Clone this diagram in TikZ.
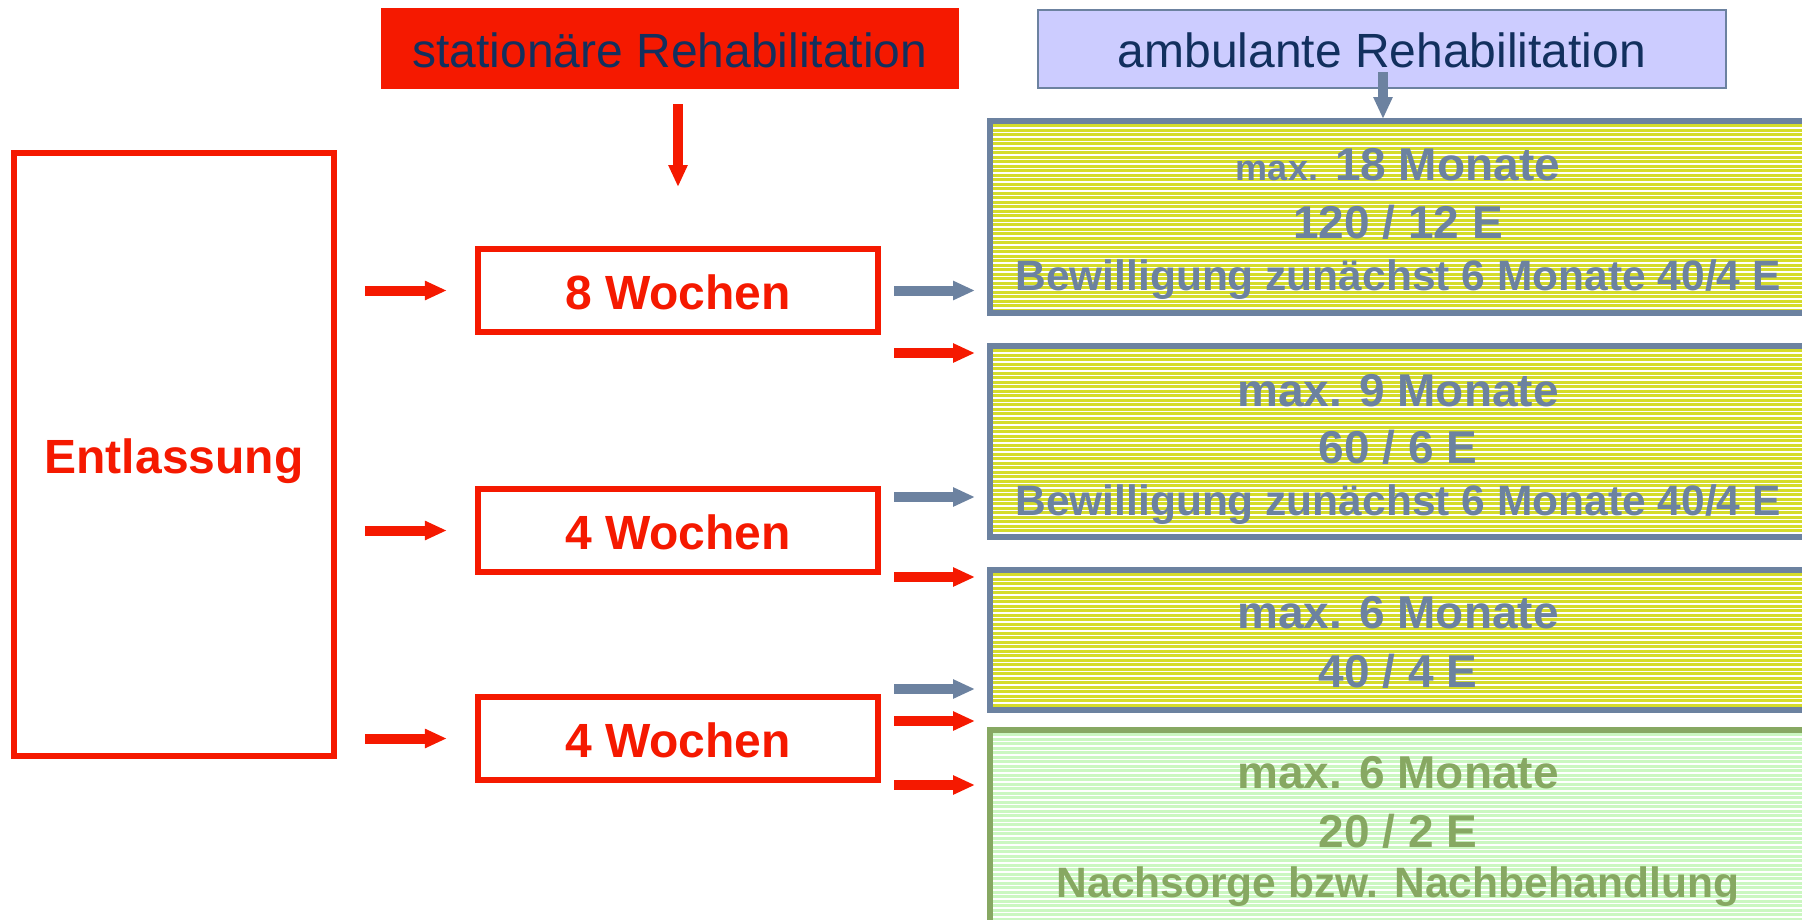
\documentclass[tikz,border=0pt]{standalone}
\usepackage{fontspec}
\setmainfont{Liberation Sans}
\usetikzlibrary{arrows.meta,calc}
\definecolor{rred}{RGB}{245,25,0}
\definecolor{slate}{RGB}{108,130,160}
\definecolor{navy}{RGB}{18,48,94}
\definecolor{lav}{RGB}{204,204,255}
\definecolor{yel}{RGB}{213,220,43}
\definecolor{pgreen}{RGB}{203,247,193}
\definecolor{dgreen}{RGB}{135,168,98}
\begin{document}
\begin{tikzpicture}[x=1pt,y=-1pt,
  stripes/.style={path picture={\foreach \k in {0,...,46}{\draw[white,line width=1.2pt] ([yshift={-2.5pt-\k*4.5pt}]path picture bounding box.north west) -- ([yshift={-2.5pt-\k*4.5pt}]path picture bounding box.north east);}}},
  redbox/.style={draw=rred, line width=5.7pt, fill=white, inner sep=0pt, outer sep=0pt, text=rred, font=\fontsize{48}{56}\selectfont\bfseries, text height=37pt, text depth=0pt},
  headbox/.style={inner sep=0pt, outer sep=0pt, text=navy, font=\fontsize{48}{56}\selectfont, text height=37pt, text depth=0pt},
  ybox/.style={draw=slate, line width=6pt, fill=yel, stripes, inner sep=0pt, outer sep=0pt},
  gbox/.style={draw=dgreen, line width=5.5pt, fill=pgreen, stripes, inner sep=0pt, outer sep=0pt},
  ytxt/.style={anchor=base, text=slate, font=\fontsize{46}{50}\selectfont\bfseries, inner sep=0pt},
  ytxts/.style={anchor=base, text=slate, font=\fontsize{42.5}{46}\selectfont\bfseries, inner sep=0pt},
  gtxt/.style={ytxt, text=dgreen},
  gtxts/.style={ytxts, text=dgreen},
  rarr/.style={draw=rred, line width=10pt, -{Triangle[width=18pt,length=22pt]}},
  sarr/.style={draw=slate, line width=10pt, -{Triangle[width=18pt,length=22pt]}},
]
\useasboundingbox (0,0) rectangle (1802,919);
\clip (0,0) rectangle (1802,919);

% headers
\node[headbox, fill=rred, minimum width=578pt, minimum height=81pt] (stat) at (670,48.5) {stationäre Rehabilitation};
\node[headbox, fill=lav, draw=slate, line width=2pt, minimum width=688pt, minimum height=78pt] (amb) at (1382,49) {ambulante Rehabilitation};

% left column
\node[redbox, minimum width=320.3pt, minimum height=603.3pt] (ent) at (174,454.5) {Entlassung};
\node[redbox, minimum width=400.3pt, minimum height=83.3pt] (w8) at (678,290.5) {8 Wochen};
\node[redbox, minimum width=400.3pt, minimum height=83.3pt] (w4a) at (678,530.5) {4 Wochen};
\node[redbox, minimum width=400.3pt, minimum height=83.3pt] (w4b) at (678,738.5) {4 Wochen};

% right column boxes
\node[ybox, minimum width=820pt, minimum height=192pt] (b1) at (1400,217) {};
\node[ybox, minimum width=820pt, minimum height=191pt] (b2) at (1400,441.5) {};
\node[ybox, minimum width=820pt, minimum height=140pt] (b3) at (1400,640) {};
\node[gbox, minimum width=820pt, minimum height=205pt] (b4) at (1400,832.5) {};

% texts in the right boxes
\node[ytxt] (t1a) at (1398,180) {{\fontsize{36}{40}\selectfont max.} 18 Monate};
\node[ytxt] (t1b) at (1398,238) {120 / 12 E};
\node[ytxts] (t1c) at (1398,290) {Bewilligung zunächst 6 Monate 40/4 E};
\node[ytxt] (t2a) at (1398,406) {max. 9 Monate};
\node[ytxt] (t2b) at (1398,463) {60 / 6 E};
\node[ytxts] (t2c) at (1398,515) {Bewilligung zunächst 6 Monate 40/4 E};
\node[ytxt] (t3a) at (1398,628) {max. 6 Monate};
\node[ytxt] (t3b) at (1398,687) {40 / 4 E};
\node[gtxt] (t4a) at (1398,788) {max. 6 Monate};
\node[gtxt] (t4b) at (1398,847) {20 / 2 E};
\node[gtxts] (t4c) at (1398,897) {Nachsorge bzw. Nachbehandlung};

% vertical arrows
\coordinate (sdend) at (678,187);
\draw[rarr] ($(stat.south -| w8.north)+(0,15)$) -- (sdend);
\draw[sarr] ($(amb.south)+(1,-16)$) -- ($(amb.south |- b1.north)+(1,-2)$);

% left arrows
\draw[rarr] ($(ent.east |- w8.west)+(31,0)$) -- ($(w8.west)+(-31,0)$);
\draw[rarr] ($(ent.east |- w4a.west)+(31,0)$) -- ($(w4a.west)+(-31,0)$);
\draw[rarr] ($(ent.east |- w4b.west)+(31,0)$) -- ($(w4b.west)+(-31,0)$);

% right arrows
\coordinate (r2) at (894,353);
\coordinate (s2) at (894,497);
\coordinate (r3) at (894,577);
\coordinate (s3) at (894,689);
\coordinate (r4) at (894,721);
\coordinate (r5) at (894,785);
\draw[sarr] ($(w8.east)+(16,0)$) -- ($(b1.west |- w8.east)+(-15,0)$);
\draw[rarr] (r2) -- ($(b2.west |- r2)+(-15,0)$);
\draw[sarr] (s2) -- ($(b2.west |- s2)+(-15,0)$);
\draw[rarr] (r3) -- ($(b3.west |- r3)+(-15,0)$);
\draw[sarr] (s3) -- ($(b3.west |- s3)+(-15,0)$);
\draw[rarr] (r4) -- ($(b4.west |- r4)+(-15,0)$);
\draw[rarr] (r5) -- ($(b4.west |- r5)+(-15,0)$);
\end{tikzpicture}
\end{document}
